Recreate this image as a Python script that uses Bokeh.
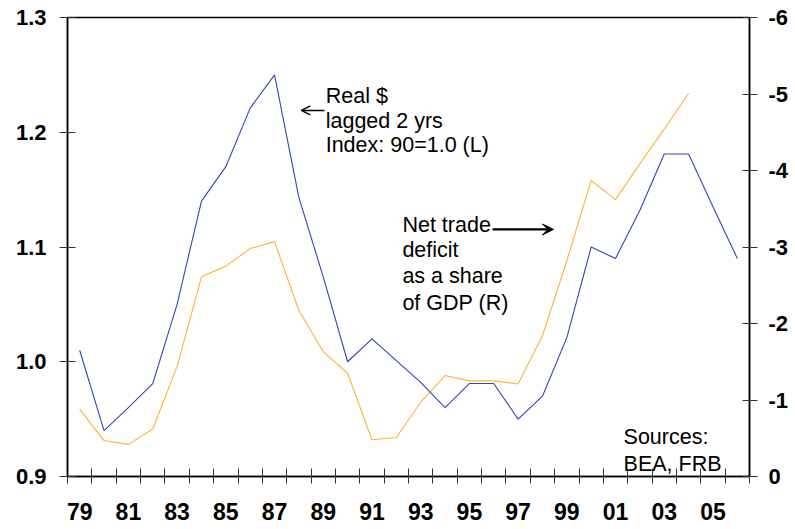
from bokeh.plotting import figure
from bokeh.models import (Range1d, LinearAxis, FixedTicker, Label, Arrow, VeeHead, OpenHead)
from bokeh.embed import file_html
from bokeh.resources import INLINE

# ---- data ----
years = list(range(1979, 2007))
year_labels = ["79", "81", "83", "85", "87", "89", "91", "93", "95", "97", "99", "01", "03", "05"]
label_years = list(range(1979, 2006, 2))

# Real dollar, lagged 2 years, index 90=1.0 (left axis)
real_dollar = [1.010, 0.940, 0.960, 0.981, 1.050, 1.140, 1.170, 1.221, 1.250, 1.143,
               1.074, 1.000, 1.020, 1.001, 0.982, 0.960, 0.981, 0.981, 0.950, 0.970,
               1.021, 1.100, 1.090, 1.132, 1.181, 1.181, 1.135, 1.090]

# Net trade deficit as share of GDP (right axis, inverted)
trade_years = list(range(1979, 2005))
trade_deficit = [-0.88, -0.47, -0.42, -0.62, -1.44, -2.61, -2.75, -2.98, -3.07, -2.17,
                 -1.63, -1.35, -0.48, -0.51, -0.97, -1.32, -1.25, -1.25, -1.21, -1.84,
                 -2.82, -3.87, -3.62, -4.09, -4.54, -5.01]

left_ticks = [0.9, 1.0, 1.1, 1.2, 1.3]
left_labels = ["0.9", "1.0", "1.1", "1.2", "1.3"]
right_ticks = [0, -1, -2, -3, -4, -5, -6]
right_labels = ["0", "-1", "-2", "-3", "-4", "-5", "-6"]

BLUE = "#3344bb"
ORANGE = "#ffb42e"
FONT = "Liberation Sans"

p = figure(width=795, height=529, output_backend="svg", toolbar_location=None,
           x_range=Range1d(1979, 2007), y_range=Range1d(0.9, 1.3),
           min_border_left=67, min_border_right=46, min_border_top=17, min_border_bottom=53,
           x_axis_type=None, y_axis_type=None)
p.background_fill_color = "white"
p.border_fill_color = "white"
p.outline_line_color = "black"
p.outline_line_width = 1.5
p.xgrid.visible = False
p.ygrid.visible = False
p.extra_y_ranges = {"right": Range1d(0, -6)}

# left axis
ly = LinearAxis(ticker=FixedTicker(ticks=left_ticks),
                major_label_overrides={t: s for t, s in zip(left_ticks, left_labels)})
# right axis
ry = LinearAxis(y_range_name="right", ticker=FixedTicker(ticks=right_ticks),
                major_label_overrides={t: s for t, s in zip(right_ticks, right_labels)})
# bottom axis: labels centred in year bands, ticks at band edges
bx = LinearAxis(ticker=FixedTicker(ticks=[y + 0.5 for y in label_years],
                                   minor_ticks=list(range(1979, 2008))),
                major_label_overrides={y + 0.5: s for y, s in zip(label_years, year_labels)})

for ax in (ly, ry, bx):
    ax.axis_line_color = "black"
    ax.axis_line_width = 1.5
    ax.major_tick_line_color = "#333333"
    ax.major_label_text_font = FONT
    ax.major_label_text_font_style = "bold"
    ax.major_label_text_color = "black"

ly.major_tick_in = 8
ly.major_tick_out = 8
ly.minor_tick_line_color = None
ly.major_label_text_font_size = "22px"
ly.major_label_standoff = 13

ry.major_tick_in = 7
ry.major_tick_out = 8
ry.minor_tick_line_color = None
ry.major_label_text_font_size = "22px"
ry.major_label_standoff = 11

bx.major_tick_in = 0
bx.major_tick_out = 0
bx.minor_tick_in = 8
bx.minor_tick_out = 7
bx.minor_tick_line_color = "#333333"
bx.major_label_text_font_size = "23px"
bx.major_label_standoff = 19

p.add_layout(ly, "left")
p.add_layout(ry, "right")
p.add_layout(bx, "below")

# ---- series ----
p.line([y + 0.5 for y in trade_years], trade_deficit, y_range_name="right",
       line_color=ORANGE, line_width=1.1)
p.line([y + 0.5 for y in years], real_dollar, line_color=BLUE, line_width=1.1)

# ---- annotations ----
def add_lines(x, ys, lines):
    for yy, t in zip(ys, lines):
        p.add_layout(Label(x=x, y=yy, text=t, text_font=FONT, text_font_size="21.5px",
                           text_color="black", text_baseline="alphabetic"))

add_lines(1989.6, [1.232, 1.2102, 1.1885], ["Real $", "lagged 2 yrs", "Index: 90=1.0 (L)"])
add_lines(1992.75, [1.1196, 1.0970, 1.0743, 1.0516],
          ["Net trade", "deficit", "as a share", "of GDP (R)"])
add_lines(2001.83, [0.934, 0.9113], ["Sources:", "BEA, FRB"])

p.add_layout(Arrow(x_start=1989.55, y_start=1.219, x_end=1988.6, y_end=1.219,
                   line_color="black", line_width=1.5,
                   end=OpenHead(size=9, line_color="black", line_width=1.5)))
p.add_layout(Arrow(x_start=1996.45, y_start=1.1153, x_end=1998.95, y_end=1.1153,
                   line_color="black", line_width=2.2,
                   end=VeeHead(size=11, fill_color="black", line_color="black")))

open("out.html", "w").write(file_html(p, INLINE))
